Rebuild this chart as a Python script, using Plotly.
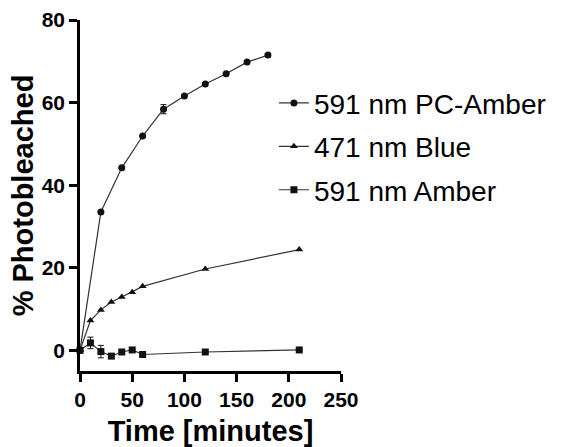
import plotly.graph_objects as go

# PC-Amber
t_pc = [0, 20, 40, 60, 80, 100, 120, 140, 160, 180]
y_pc = [0, 33.5, 44.2, 51.9, 58.4, 61.6, 64.5, 67.0, 69.8, 71.5]
e_pc = [0, 0, 0, 0, 1.1, 0, 0, 0, 0, 0]

# Blue
t_bl = [0, 10, 20, 30, 40, 50, 60, 120, 210]
y_bl = [0, 7.2, 9.8, 11.7, 12.9, 14.1, 15.5, 19.7, 24.4]

# Amber
t_am = [0, 10, 20, 30, 40, 50, 60, 120, 210]
y_am = [0, 1.8, -0.3, -1.4, -0.4, 0.1, -1.0, -0.4, 0.1]
e_am = [0, 1.4, 1.5, 0, 0, 0, 0, 0, 0]

names = ["591 nm PC-Amber", "471 nm Blue", "591 nm Amber"]

FONT = "Liberation Sans, Arial, Helvetica, sans-serif"
col = "#111111"

fig = go.Figure()
fig.add_trace(go.Scatter(
    x=t_pc, y=y_pc, name=names[0], mode="lines+markers",
    line=dict(color="#333333", width=1.2),
    marker=dict(symbol="circle", size=7, color=col),
    error_y=dict(type="data", array=e_pc, visible=True, color=col, thickness=1, width=3),
    cliponaxis=False, legendgroup="a"))
fig.add_trace(go.Scatter(
    x=t_bl, y=y_bl, name=names[1], mode="lines+markers",
    line=dict(color="#333333", width=1.2),
    marker=dict(symbol="triangle-up", size=7, color=col),
    cliponaxis=False, legendgroup="b"))
fig.add_trace(go.Scatter(
    x=t_am, y=y_am, name=names[2], mode="lines+markers",
    line=dict(color="#333333", width=1.2),
    marker=dict(symbol="square", size=7, color=col),
    error_y=dict(type="data", array=e_am, visible=True, color=col, thickness=1, width=3),
    cliponaxis=False, legendgroup="c"))

fig.update_layout(
    width=563, height=447,
    margin=dict(l=80, r=216, t=20, b=76),
    plot_bgcolor="white", paper_bgcolor="white",
    font=dict(family=FONT, color="black"),
    legend=dict(x=0.743, xanchor="left", y=0.834, yanchor="top",
                font=dict(size=28, family=FONT, color="black"),
                traceorder="grouped", tracegroupgap=4,
                itemwidth=30, bgcolor="rgba(0,0,0,0)"),
    xaxis=dict(range=[0, 250], tickvals=[0, 50, 100, 150, 200, 250],
               showline=True, linewidth=2.5, linecolor="black",
               ticks="outside", ticklen=8, tickwidth=2.5, tickcolor="black",
               showgrid=False, zeroline=False, automargin=False,
               tickfont=dict(size=21, family=FONT, color="black", weight="bold"),
               title=dict(text="Time [minutes]", standoff=14,
                          font=dict(size=29, family=FONT, color="black", weight="bold"))),
    yaxis=dict(range=[-5, 80], tickvals=[0, 20, 40, 60, 80],
               showline=True, linewidth=2.5, linecolor="black",
               ticks="outside", ticklen=8, tickwidth=2.5, tickcolor="black",
               showgrid=False, zeroline=False, automargin=False,
               tickfont=dict(size=21, family=FONT, color="black", weight="bold"),
               title=dict(text="% Photobleached", standoff=0,
                          font=dict(size=29, family=FONT, color="black", weight="bold"))),
)

fig.write_html("out.html")
